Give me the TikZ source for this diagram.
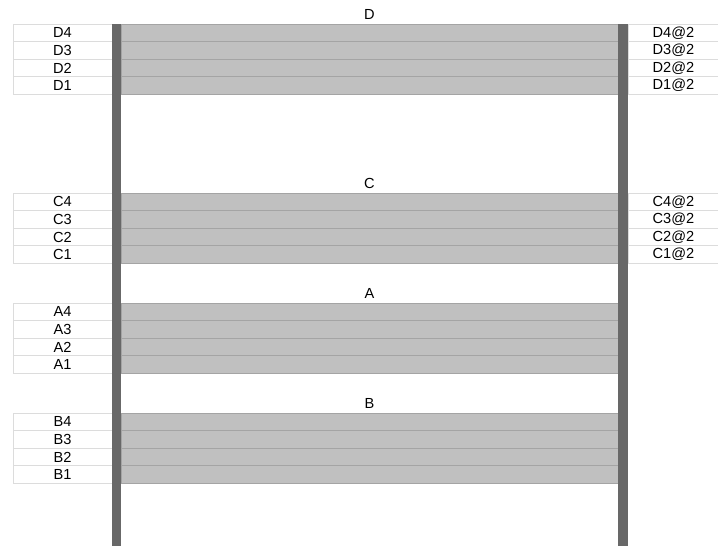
\documentclass[tikz,border=0pt]{standalone}
\usepackage{fontspec}
\setmainfont{Liberation Sans}
\definecolor{cellborder}{HTML}{DCDCDC}
\definecolor{rowfill}{HTML}{C0C0C0}
\definecolor{rowline}{HTML}{A4A4A4}
\definecolor{barcol}{HTML}{686868}
\begin{document}
\begin{tikzpicture}[x=1pt,y=-1pt,
  cellL/.style={draw=cellborder, line width=1pt, fill=white, minimum width=99pt, minimum height=17.6pt, inner sep=0pt, font=\fontsize{14.6}{15}\selectfont},
  cellR/.style={draw=cellborder, line width=1pt, fill=white, minimum width=90pt, minimum height=17.6pt, inner sep=0pt, font=\fontsize{14.6}{15}\selectfont},
  grayrow/.style={draw=rowline, line width=1pt, fill=rowfill, minimum width=497pt, minimum height=17.6pt, inner sep=0pt},
  title/.style={inner sep=0pt, font=\fontsize{14.6}{15}\selectfont},
  bar/.style={fill=barcol}]
\useasboundingbox (0,0) rectangle (718,546);
\fill[white] (0,0) rectangle (718,546);
\foreach \b/\t/\r/\ty in {D/24/1/14, C/193/1/183, A/303/0/293, B/413/0/403}{
  \node[title] (\b T) at (369.5,\ty) {\b};
  \foreach \n/\k in {4/0,3/1,2/2,1/3}{
    \pgfmathsetmacro{\yc}{\t+(\k+0.5)*17.6}
    \node[grayrow] (\b\n G) at (369.5,\yc) {};
    \node[cellL] (\b\n L) at (62.5,\yc) {\b\n};
    \ifnum\r=1
      \node[cellR] (\b\n R) at (673.5,\yc) {\b\n@2};
    \fi
  }
}
\fill[bar] (112,24) rectangle (121,546);
\fill[bar] (618,24) rectangle (628,546);
\end{tikzpicture}
\end{document}
